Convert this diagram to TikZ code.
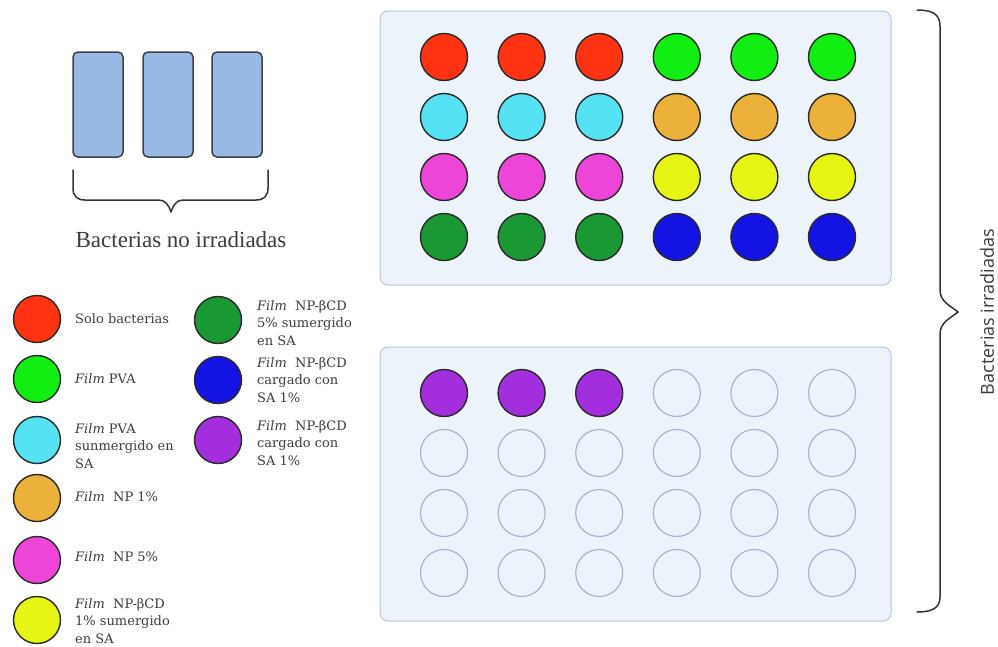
\documentclass[tikz,border=0pt]{standalone}
\usepackage{fontspec}
\setmainfont{DejaVu Serif}
\newfontfamily\timesf{Liberation Serif}
\newfontfamily\sansf{Open Sans}
\definecolor{cred}{HTML}{FF3311}
\definecolor{cgreen}{HTML}{11EE11}
\definecolor{ccyan}{HTML}{55E3F3}
\definecolor{corange}{HTML}{EBB13A}
\definecolor{cmagenta}{HTML}{EC45D8}
\definecolor{cyellow}{HTML}{E6F514}
\definecolor{cdgreen}{HTML}{1A9833}
\definecolor{cblue}{HTML}{1313E3}
\definecolor{cpurple}{HTML}{A22EDD}
\definecolor{wellline}{HTML}{2A2A2A}
\definecolor{emptyline}{HTML}{A9B3CA}
\definecolor{platefill}{HTML}{EDF3FB}
\definecolor{plateline}{HTML}{B9C5DD}
\definecolor{tubefill}{HTML}{98B9E4}
\definecolor{tubeline}{HTML}{3A404C}
\definecolor{braceline}{HTML}{333333}
\definecolor{txtgray}{HTML}{3C3C3C}
\begin{document}
\begin{tikzpicture}[x=1pt,y=-1pt,
  well/.style={circle, draw=wellline, line width=1.4pt, minimum size=47pt, inner sep=0pt},
  emptywell/.style={circle, draw=emptyline, line width=1.2pt, minimum size=47pt, inner sep=0pt},
  plate/.style={draw=plateline, fill=platefill, rounded corners=8pt, line width=1pt, minimum width=511pt, minimum height=274pt, inner sep=0pt},
  tube/.style={draw=tubeline, fill=tubefill, rounded corners=5pt, line width=1.5pt, minimum width=50pt, minimum height=105pt, inner sep=0pt},
  bracepath/.style={draw=braceline, line width=1.5pt, line cap=round, line join=round},
  legtext/.style={anchor=west, align=left, font=\fontsize{13}{17.5}\selectfont, text=txtgray, inner sep=0pt}]
\useasboundingbox (0,0) rectangle (998,646);

% tubes (non irradiated)
\node[tube] (tube1) at (98,104.5) {};
\node[tube] (tube2) at (168,104.5) {};
\node[tube] (tube3) at (237,104.5) {};
\draw[bracepath] (73,170) -- (73,188) .. controls (73,196) and (77,200) .. (85,200)
  -- (159,200) .. controls (165,200) and (169,205) .. (171,212)
  .. controls (173,205) and (177,200) .. (183,200) -- (256,200)
  .. controls (264,200) and (268,196) .. (268,188) -- (268,170);
\node[font=\timesf\fontsize{23}{26}\selectfont, text=txtgray] (nolabel) at (181,240) {Bacterias no irradiadas};

% plates
\node[plate] (plateA) at (635.5,148) {};
\node[plate] (plateB) at (635.5,484) {};

% top plate wells
\foreach \c/\col in {0/cred,1/cred,2/cred,3/cgreen,4/cgreen,5/cgreen}
  \node[well, fill=\col] (a-0-\c) at ({444+77.6*\c},57) {};
\foreach \c/\col in {0/ccyan,1/ccyan,2/ccyan,3/corange,4/corange,5/corange}
  \node[well, fill=\col] (a-1-\c) at ({444+77.6*\c},117) {};
\foreach \c/\col in {0/cmagenta,1/cmagenta,2/cmagenta,3/cyellow,4/cyellow,5/cyellow}
  \node[well, fill=\col] (a-2-\c) at ({444+77.6*\c},177) {};
\foreach \c/\col in {0/cdgreen,1/cdgreen,2/cdgreen,3/cblue,4/cblue,5/cblue}
  \node[well, fill=\col] (a-3-\c) at ({444+77.6*\c},237) {};

% bottom plate wells
\foreach \c in {0,1,2}
  \node[well, fill=cpurple] (b-0-\c) at ({444+77.6*\c},393) {};
\foreach \c in {3,4,5}
  \node[emptywell] (b-0-\c) at ({444+77.6*\c},393) {};
\foreach \r in {1,2,3}
  \foreach \c in {0,...,5}
    \node[emptywell] (b-\r-\c) at ({444+77.6*\c},{393+60*\r}) {};

% right brace
\draw[bracepath] (917,10) .. controls (932,10) and (940,14) .. (940,26)
  -- (940,290) .. controls (940,302) and (951,306) .. (958,312)
  .. controls (951,318) and (940,322) .. (940,334)
  -- (940,597) .. controls (940,608) and (932,612) .. (917,612);
\node[font=\sansf\fontsize{18}{22}\selectfont, text=txtgray, rotate=90, inner sep=1pt] (irrlabel) at (987,312) {Bacterias irradiadas};

% legend, left column
\node[well, fill=cred] (l1) at (37,319) {};
\node[well, fill=cgreen] (l2) at (37,379) {};
\node[well, fill=ccyan] (l3) at (37,440) {};
\node[well, fill=corange] (l4) at (37,498) {};
\node[well, fill=cmagenta] (l5) at (37,560) {};
\node[well, fill=cyellow] (l6) at (37,620) {};
\node[legtext] (t1) at (75,319) {Solo bacterias};
\node[legtext] (t2) at (75,379) {\textit{Film} PVA};
\node[legtext] (t3) at (75,446) {\textit{Film} PVA\\sunmergido en\\SA};
\node[legtext] (t4) at (75,497) {\textit{Film}\ \ NP 1\%};
\node[legtext] (t5) at (75,557) {\textit{Film}\ \ NP 5\%};
\node[legtext] (t6) at (75,621) {\textit{Film}\ \ NP-βCD\\1\% sumergido\\en SA};

% legend, right column
\node[well, fill=cdgreen] (l7) at (218,320) {};
\node[well, fill=cblue] (l8) at (218,380) {};
\node[well, fill=cpurple] (l9) at (218,440) {};
\node[legtext] (t7) at (257,323) {\textit{Film}\ \ NP-βCD\\5\% sumergido\\en SA};
\node[legtext] (t8) at (257,380) {\textit{Film}\ \ NP-βCD\\cargado con\\SA 1\%};
\node[legtext] (t9) at (257,443) {\textit{Film}\ \ NP-βCD\\cargado con\\SA 1\%};
\end{tikzpicture}
\end{document}
